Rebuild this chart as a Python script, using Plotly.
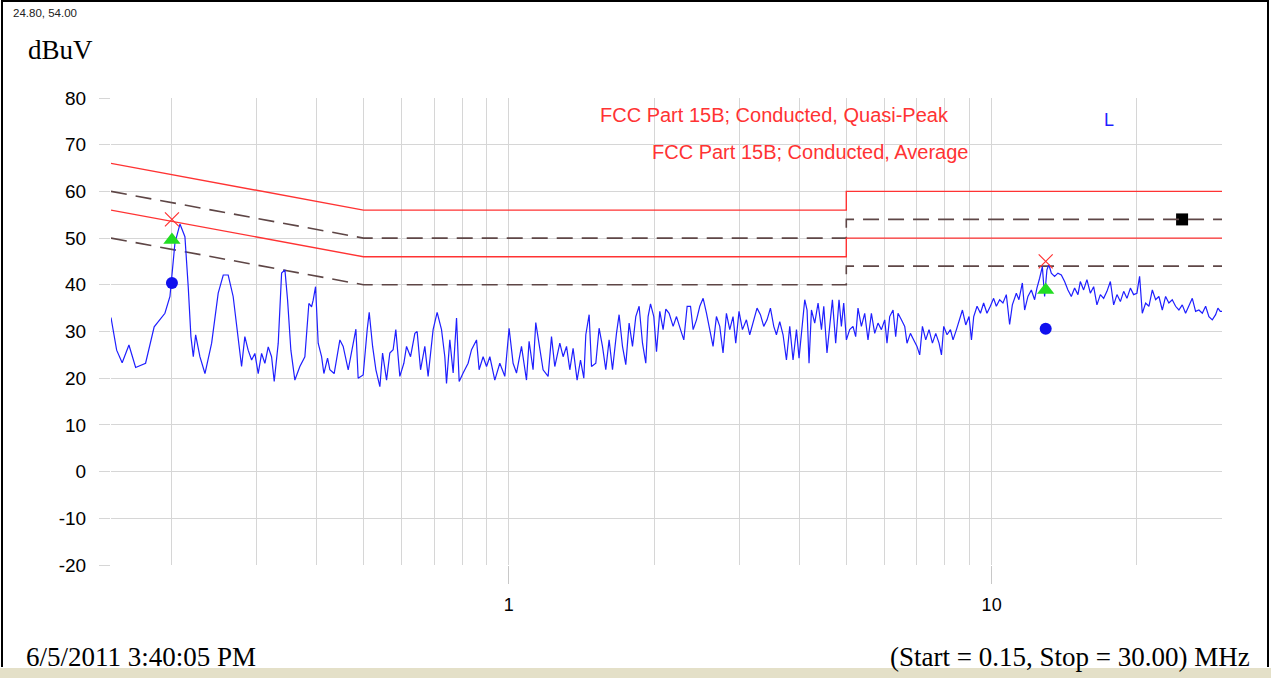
import plotly.graph_objects as go

# ---------------- data ----------------
freq_mhz = [
    0.150, 0.1541, 0.1582, 0.1634, 0.1687, 0.1769, 0.1843, 0.1940, 0.1987, 0.2018,
    0.2035, 0.2084, 0.2134, 0.2168, 0.2196, 0.2221, 0.2246, 0.2292, 0.2348, 0.2424,
    0.2501, 0.2562, 0.2623, 0.2686, 0.2751, 0.2796, 0.2840, 0.2885, 0.2933, 0.2979,
    0.3027, 0.3076, 0.3125, 0.3175, 0.3226, 0.3267, 0.3330, 0.3384, 0.3438, 0.3482,
    0.3537, 0.3605, 0.3692, 0.3781, 0.3854, 0.3904, 0.3934, 0.3979, 0.4029, 0.4095,
    0.4140, 0.4213, 0.4260, 0.4348, 0.4468, 0.4539, 0.4649, 0.4725, 0.4823, 0.4875,
    0.4993, 0.5090, 0.5139, 0.5223, 0.5306, 0.5407, 0.5477, 0.5582, 0.5670, 0.5760,
    0.5834, 0.5947, 0.6062, 0.6140, 0.6259, 0.6389, 0.6458, 0.6565, 0.6700, 0.6806,
    0.6970, 0.7105, 0.7255, 0.7370, 0.7430, 0.7548, 0.7669, 0.7794, 0.7892, 0.8043,
    0.8236, 0.8372, 0.8573, 0.8680, 0.8847, 0.8992, 0.9135, 0.9354, 0.9580, 0.9811,
    1.0014, 1.0207, 1.0374, 1.0624, 1.0880, 1.1016, 1.1227, 1.1372, 1.1552, 1.1776,
    1.2061, 1.2258, 1.2452, 1.2754, 1.2956, 1.3169, 1.3377, 1.3588, 1.3850, 1.4076,
    1.4301, 1.4437, 1.4668, 1.4835, 1.5142, 1.5382, 1.5632, 1.5880, 1.6134, 1.6397,
    1.6711, 1.6921, 1.7197, 1.7470, 1.7749, 1.8038, 1.8323, 1.8616, 1.8919, 1.9218,
    1.9431, 1.9656, 1.9966, 2.0225, 2.0545, 2.0874, 2.1145, 2.1479, 2.1894, 2.2250,
    2.2679, 2.3038, 2.3407, 2.3788, 2.4085, 2.4477, 2.4864, 2.5262, 2.5673, 2.6079,
    2.6485, 2.6915, 2.7346, 2.7778, 2.8230, 2.8681, 2.9134, 2.9512, 2.9978, 3.0471,
    3.1053, 3.1550, 3.2049, 3.2668, 3.3199, 3.3729, 3.4263, 3.4822, 3.5380, 3.5832,
    3.6406, 3.6982, 3.7584, 3.8185, 3.8788, 3.9428, 3.9912, 4.0570, 4.1012, 4.1468,
    4.1862, 4.2346, 4.3015, 4.3704, 4.4415, 4.4909, 4.5603, 4.6196, 4.6796, 4.7534,
    4.8296, 4.8844, 4.9387, 5.0029, 5.0816, 5.1620, 5.2290, 5.2871, 5.3731, 5.4591,
    5.5454, 5.6356, 5.7259, 5.8165, 5.9111, 6.0060, 6.0714, 6.1501, 6.2487, 6.3283,
    6.3987, 6.5027, 6.6069, 6.6788, 6.7889, 6.8963, 7.0053, 7.0963, 7.1884, 7.3036,
    7.4189, 7.5395, 7.6603, 7.7815, 7.8716, 7.9573, 8.0847, 8.2162, 8.3190, 8.4543,
    8.5880, 8.6995, 8.8388, 8.9784, 9.0823, 9.1812, 9.3282, 9.4797, 9.6250, 9.7791,
    9.9380, 10.095, 10.226, 10.389, 10.554, 10.725, 10.896, 11.038, 11.249, 11.390,
    11.577, 11.704, 11.890, 12.084, 12.275, 12.410, 12.571, 12.735, 12.874, 13.016,
    13.140, 13.292, 13.502, 13.718, 13.941, 14.162, 14.388, 14.622, 14.854, 15.092,
    15.264, 15.507, 15.753, 16.010, 16.265, 16.522, 16.794, 17.060, 17.330, 17.616,
    17.894, 18.178, 18.477, 18.770, 19.067, 19.381, 19.679, 19.992, 20.252, 20.512,
    20.842, 21.170, 21.518, 21.860, 22.203, 22.565, 22.924, 23.284, 23.663, 24.042,
    24.425, 24.820, 25.216, 25.618, 26.035, 26.450, 26.872, 27.310, 27.746, 28.185,
    28.642, 29.100, 29.420, 29.755, 30.000,
]
level_dbuv = [
    33.0, 26.0, 23.3, 27.1, 22.3, 23.2, 31.0, 33.9, 37.5, 46.0,
    49.0, 53.0, 50.3, 39.6, 28.9, 24.6, 29.3, 24.6, 21.0, 27.5,
    38.2, 42.1, 42.1, 37.5, 28.9, 22.5, 28.9, 26.0, 23.9, 25.3,
    21.0, 25.3, 23.2, 26.7, 24.6, 19.3, 27.5, 42.5, 43.2, 36.7,
    26.0, 19.6, 22.5, 24.6, 36.0, 35.3, 36.7, 39.6, 27.5, 24.6,
    21.0, 24.3, 21.8, 21.0, 28.2, 26.8, 21.8, 25.4, 30.5, 20.0,
    20.7, 30.4, 34.1, 26.8, 21.8, 18.2, 25.4, 19.6, 25.4, 26.1,
    30.4, 20.4, 23.2, 26.8, 24.6, 29.6, 30.0, 21.8, 26.8, 20.4,
    30.4, 34.1, 30.4, 24.6, 18.9, 28.2, 21.1, 32.9, 19.3, 21.1,
    23.2, 26.1, 28.2, 21.8, 24.6, 22.5, 24.6, 19.6, 23.2, 20.4,
    30.7, 23.2, 21.1, 26.8, 19.6, 27.9, 21.8, 31.9, 27.5, 21.8,
    20.4, 28.9, 22.5, 27.5, 24.6, 26.8, 21.8, 26.4, 19.6, 23.9,
    20.0, 29.3, 33.6, 22.5, 23.2, 30.7, 26.8, 21.8, 28.2, 21.8,
    29.6, 33.6, 26.8, 22.9, 31.8, 26.8, 33.2, 35.4, 27.5, 23.2,
    33.2, 35.9, 33.2, 25.7, 34.3, 30.4, 34.8, 33.9, 31.1, 33.2,
    30.4, 28.2, 35.4, 35.4, 30.4, 32.5, 35.4, 37.1, 33.9, 30.4,
    26.8, 33.2, 31.1, 25.4, 33.9, 30.4, 33.2, 27.5, 34.3, 30.4,
    32.5, 29.3, 32.1, 35.0, 33.6, 31.1, 32.5, 35.0, 31.1, 29.3,
    32.1, 29.3, 23.9, 31.1, 23.9, 30.4, 24.3, 31.1, 36.8, 34.6,
    23.2, 34.6, 31.8, 36.1, 30.4, 35.4, 25.4, 31.1, 36.8, 27.5,
    36.8, 31.1, 36.1, 28.2, 30.4, 31.1, 28.9, 35.0, 31.1, 33.9,
    28.2, 33.9, 29.6, 31.8, 30.4, 32.5, 27.5, 33.2, 34.6, 28.9,
    33.9, 32.5, 31.1, 27.5, 29.6, 28.2, 26.8, 25.0, 31.1, 28.2,
    30.4, 27.5, 29.6, 27.5, 25.0, 31.1, 29.3, 30.4, 28.2, 30.4,
    32.5, 34.6, 31.4, 33.2, 28.2, 33.2, 35.4, 33.9, 36.1, 33.9,
    35.4, 37.1, 35.4, 36.8, 36.1, 37.9, 31.5, 35.7, 38.2, 36.8,
    40.4, 34.6, 37.5, 38.9, 36.8, 39.3, 41.4, 43.9, 37.5, 43.2,
    44.3, 42.5, 41.8, 42.5, 42.1, 40.7, 38.9, 37.5, 39.3, 37.9,
    40.7, 38.9, 41.1, 38.2, 39.6, 35.7, 37.9, 37.1, 38.6, 40.7,
    35.7, 37.9, 36.4, 38.6, 37.1, 39.3, 37.9, 38.2, 41.8, 33.9,
    36.1, 35.4, 38.9, 36.8, 37.5, 34.6, 37.5, 36.1, 36.8, 35.4,
    34.6, 35.7, 33.9, 35.4, 37.1, 34.3, 34.6, 33.9, 35.4, 33.2,
    32.5, 33.6, 35.0, 34.3, 34.3,
]

# FCC Part 15B class B conducted limits (breakpoints)
limit_freq = [0.15, 0.5, 5.0, 5.0, 30.0]
qp_limit = [66, 56, 56, 60, 60]
avg_limit = [56, 46, 46, 50, 50]
qp_margin = [60, 50, 50, 54, 54]
avg_margin = [50, 40, 40, 44, 44]

# final measurement points
peak_freq = [0.2006, 12.94]
peak_level = [54.0, 45.0]
qp_freq = [0.2006, 12.94]
qp_level = [49.6, 38.9]
av_freq = [0.2006, 12.94]
av_level = [40.4, 30.6]
cursor_freq = [24.80]
cursor_level = [54.00]

x_major = [1, 10]
x_minor = [0.15, 0.2, 0.3, 0.4, 0.5, 0.6, 0.7, 0.8, 0.9,
           2, 3, 4, 5, 6, 7, 8, 9, 20, 30]
y_ticks = [-20, -10, 0, 10, 20, 30, 40, 50, 60, 70, 80]
y_ticktext = ["-20", "-10", "0", "10", "20", "30", "40", "50", "60", "70", "80"]

# ---------------- figure ----------------
RED = "#ff3333"
DASH = "#5e4646"
GRID = "#d6d6d6"
SANS = "Arial, Liberation Sans, sans-serif"
SERIF = "Times New Roman, Liberation Serif, serif"

fig = go.Figure()

fig.add_trace(go.Scatter(x=cursor_freq, y=cursor_level, mode="markers",
                         marker=dict(symbol="square", size=12, color="black"),
                         showlegend=False, hoverinfo="skip"))

for lvl in (qp_margin, avg_margin):
    fig.add_trace(go.Scatter(x=limit_freq, y=lvl, mode="lines",
                             line=dict(color=DASH, width=1.6, dash="16px,9px"),
                             showlegend=False, hoverinfo="skip"))
for lvl in (qp_limit, avg_limit):
    fig.add_trace(go.Scatter(x=limit_freq, y=lvl, mode="lines",
                             line=dict(color=RED, width=1.4),
                             showlegend=False, hoverinfo="skip"))

fig.add_trace(go.Scatter(x=freq_mhz, y=level_dbuv, mode="lines",
                         line=dict(color="#1f1fff", width=1.2),
                         showlegend=False))

fig.add_trace(go.Scatter(x=peak_freq, y=peak_level, mode="markers",
                         marker=dict(symbol="x-thin", size=14,
                                     line=dict(color=RED, width=1.2)),
                         showlegend=False))
fig.add_trace(go.Scatter(x=qp_freq, y=qp_level, mode="markers",
                         marker=dict(symbol="triangle-up", size=15, color="#22dd22"),
                         showlegend=False))
fig.add_trace(go.Scatter(x=av_freq, y=av_level, mode="markers",
                         marker=dict(symbol="circle", size=12, color="#1010ee"),
                         showlegend=False))

L, R, T, B = 111, 1222, 98, 565
W, H = 1271, 678


def px(xp):
    return (xp - L) / (R - L)


def py(yp):
    return (B - yp) / (B - T)


annotations = [
    dict(text="FCC Part 15B; Conducted, Quasi-Peak", x=px(598), y=py(115),
         xanchor="left", yanchor="middle", font=dict(family=SANS, size=20, color=RED)),
    dict(text="FCC Part 15B; Conducted, Average", x=px(650), y=py(152),
         xanchor="left", yanchor="middle", font=dict(family=SANS, size=20, color=RED)),
    dict(text="L", x=px(1109), y=py(120), xanchor="center", yanchor="middle",
         font=dict(family=SANS, size=18, color="#1f1fff")),
    dict(text="dBuV", x=px(26), y=py(50), xanchor="left", yanchor="middle",
         font=dict(family=SERIF, size=27, color="black")),
    dict(text="24.80, 54.00", x=px(11), y=py(13), xanchor="left", yanchor="middle",
         font=dict(family=SANS, size=11.5, color="#222222")),
    dict(text="6/5/2011 3:40:05 PM", x=px(24), y=py(657), xanchor="left",
         yanchor="middle", font=dict(family=SERIF, size=27, color="black")),
    dict(text="(Start = 0.15, Stop = 30.00) MHz", x=px(1252), y=py(657),
         xanchor="right", yanchor="middle", font=dict(family=SERIF, size=27, color="black")),
]
for a in annotations:
    a.update(xref="paper", yref="paper", showarrow=False)

shapes = [
    # window frame
    dict(type="line", xref="paper", yref="paper", x0=px(2), x1=px(2), y0=py(1), y1=py(667),
         line=dict(color="black", width=2)),
    dict(type="line", xref="paper", yref="paper", x0=px(1), x1=px(1269), y0=py(1), y1=py(1),
         line=dict(color="black", width=2)),
    dict(type="line", xref="paper", yref="paper", x0=px(1268), x1=px(1268), y0=py(1), y1=py(667),
         line=dict(color="black", width=2)),
    dict(type="rect", xref="paper", yref="paper", x0=px(0), x1=px(1271), y0=py(668), y1=py(678),
         fillcolor="#e4e0c8", line=dict(width=0), layer="below"),
]

fig.update_layout(
    width=W, height=H,
    margin=dict(l=L, r=W - R, t=T, b=H - B),
    paper_bgcolor="white", plot_bgcolor="white",
    annotations=annotations, shapes=shapes,
    showlegend=False,
    xaxis=dict(
        type="log", range=[-0.8239, 1.4771],
        tickvals=x_major, ticktext=["1", "10"],
        ticks="outside", ticklen=18, tickcolor="#c8c8c8", tickwidth=1,
        ticklabelstandoff=5,
        tickfont=dict(family=SANS, size=18, color="black"),
        showgrid=True, gridcolor=GRID, gridwidth=1,
        minor=dict(tickvals=x_minor, showgrid=True, gridcolor=GRID, gridwidth=1, ticks=""),
        showline=False, zeroline=False,
    ),
    yaxis=dict(
        range=[-20, 80], tickvals=y_ticks, ticktext=y_ticktext,
        ticks="outside", ticklen=11, tickcolor=GRID, tickwidth=1,
        ticklabelstandoff=9,
        tickfont=dict(family=SANS, size=19, color="black"),
        showgrid=True, gridcolor=GRID, gridwidth=1,
        showline=False, zeroline=False,
    ),
)

fig.write_html("out.html",
               config={"displayModeBar": False},
               post_script="document.body.style.margin='0px';"
                           "document.body.style.overflow='hidden';")
